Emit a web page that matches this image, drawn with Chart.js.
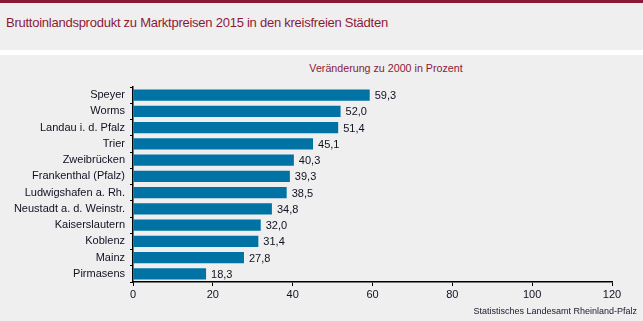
<!DOCTYPE html>
<html><head><meta charset="utf-8">
<script src="https://cdn.jsdelivr.net/npm/chart.js@4/dist/chart.umd.min.js"></script>
<style>
html,body{margin:0;padding:0;width:643px;height:321px;overflow:hidden;background:#eeefee;font-family:"Liberation Sans",Arial,sans-serif;}
#topbar{position:absolute;left:0;top:0;width:643px;height:3px;background:#8b1a36;}
#title{position:absolute;left:6px;top:15px;font-size:13px;color:#8b1a3a;letter-spacing:-0.25px;white-space:nowrap;}
#sep{position:absolute;left:0;top:50px;width:643px;height:5px;background:#ffffff;}
#subtitle{position:absolute;left:0;width:772px;top:62px;text-align:center;font-size:10.7px;color:#8b1a3a;white-space:nowrap;}
#source{position:absolute;right:6px;top:306px;font-size:9px;color:#1a1a2e;white-space:nowrap;}
#wrap{position:absolute;left:0;top:0;width:643px;height:321px;}
</style></head>
<body>
<div id="topbar"></div>
<div id="title">Bruttoinlandsprodukt zu Marktpreisen 2015 in den kreisfreien Städten</div>
<div id="sep"></div>
<div id="subtitle">Veränderung zu 2000 in Prozent</div>
<div id="wrap"><canvas id="c" width="643" height="321"></canvas></div>
<div id="source">Statistisches Landesamt Rheinland-Pfalz</div>
<script>
const categories = ["Speyer","Worms","Landau i. d. Pfalz","Trier","Zweibrücken","Frankenthal (Pfalz)","Ludwigshafen a. Rh.","Neustadt a. d. Weinstr.","Kaiserslautern","Koblenz","Mainz","Pirmasens"];
const values = [59.3,52.0,51.4,45.1,40.3,39.3,38.5,34.8,32.0,31.4,27.8,18.3];
const xMin = 0, xMax = 120, xStep = 20;

const labelPlugin = {
  id:'vals',
  afterDatasetsDraw(chart){
    const ctx = chart.ctx;
    const meta = chart.getDatasetMeta(0);
    ctx.save();
    ctx.font = '11px "Liberation Sans", Arial, sans-serif';
    ctx.fillStyle = '#111122';
    ctx.textAlign = 'left';
    ctx.textBaseline = 'middle';
    meta.data.forEach((bar,i)=>{
      ctx.fillText(values[i].toFixed(1).replace('.',','), bar.x + 5, bar.y + 1);
    });
    ctx.restore();
  }
};

new Chart(document.getElementById('c'), {
  type:'bar',
  data:{labels:categories, datasets:[{data:values, backgroundColor:'#0072a3', borderWidth:0, categoryPercentage:1, barPercentage:0.68}]},
  options:{
    indexAxis:'y', responsive:false, animation:false,
    layout:{padding:{left:0,top:87,right:31,bottom:0}},
    plugins:{legend:{display:false}, tooltip:{enabled:false}},
    scales:{
      y:{
        offset:true,
        afterFit(a){a.width=133;},
        grid:{display:true, drawOnChartArea:false, drawTicks:true, tickLength:3, color:'#000', offset:true},
        border:{display:true, color:'#000', width:1.5},
        ticks:{color:'#111122', font:{size:11, family:'"Liberation Sans", Arial, sans-serif'}, padding:5}
      },
      x:{
        min:xMin, max:xMax,
        afterFit(a){a.height=39;},
        grid:{display:true, drawOnChartArea:false, drawTicks:true, tickLength:4, color:'#000'},
        border:{display:true, color:'#000', width:1.5},
        ticks:{stepSize:xStep, color:'#111122', font:{size:11, family:'"Liberation Sans", Arial, sans-serif'}, padding:2}
      }
    }
  },
  plugins:[labelPlugin]
});
</script>
</body></html>
